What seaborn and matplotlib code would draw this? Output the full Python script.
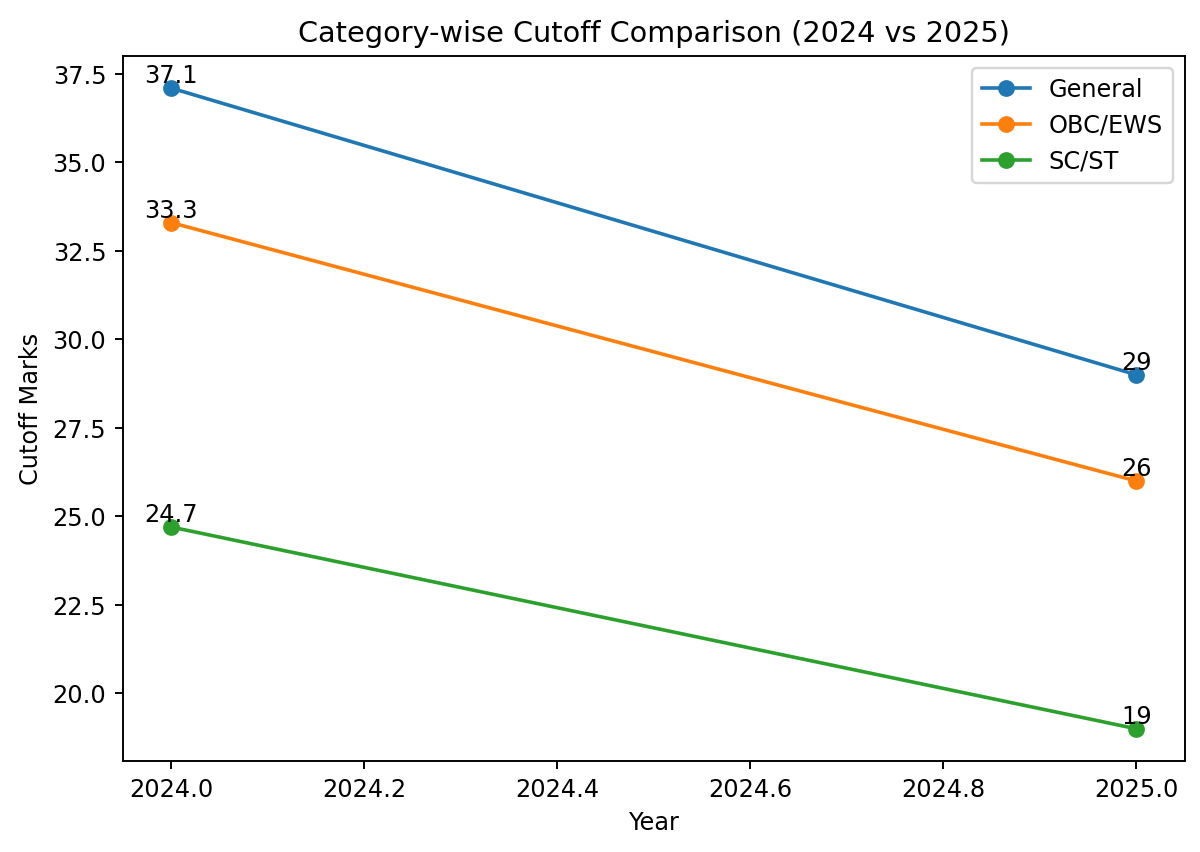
import matplotlib
matplotlib.use('Agg')
import matplotlib.pyplot as plt
import seaborn as sns

# cutoff data
years = [2024, 2025]
categories = ['General', 'OBC/EWS', 'SC/ST']
general = [37.1, 29]
obc_ews = [33.3, 26]
sc_st = [24.7, 19]

series = [general, obc_ews, sc_st]
colors = ['#1f77b4', '#ff7f0e', '#2ca02c']

plt.rcParams['font.family'] = ['DejaVu Sans']

fig, ax = plt.subplots(figsize=(6.96, 4.94), dpi=172.5)

for name, vals, c in zip(categories, series, colors):
    sns.lineplot(x=years, y=vals, marker='o', color=c, label=name, ax=ax,
                 markeredgecolor=c, markeredgewidth=1, markersize=6)
    for x, y in zip(years, vals):
        ax.text(x, y, str(y), ha='center', va='bottom', fontsize=10)

ax.set_title('Category-wise Cutoff Comparison (2024 vs 2025)')
ax.set_xlabel('Year')
ax.set_ylabel('Cutoff Marks')
ax.legend(loc='upper right')

fig.subplots_adjust(left=0.1025, right=0.9867, top=0.934, bottom=0.107)
fig.savefig('out.png', dpi=172.5)
